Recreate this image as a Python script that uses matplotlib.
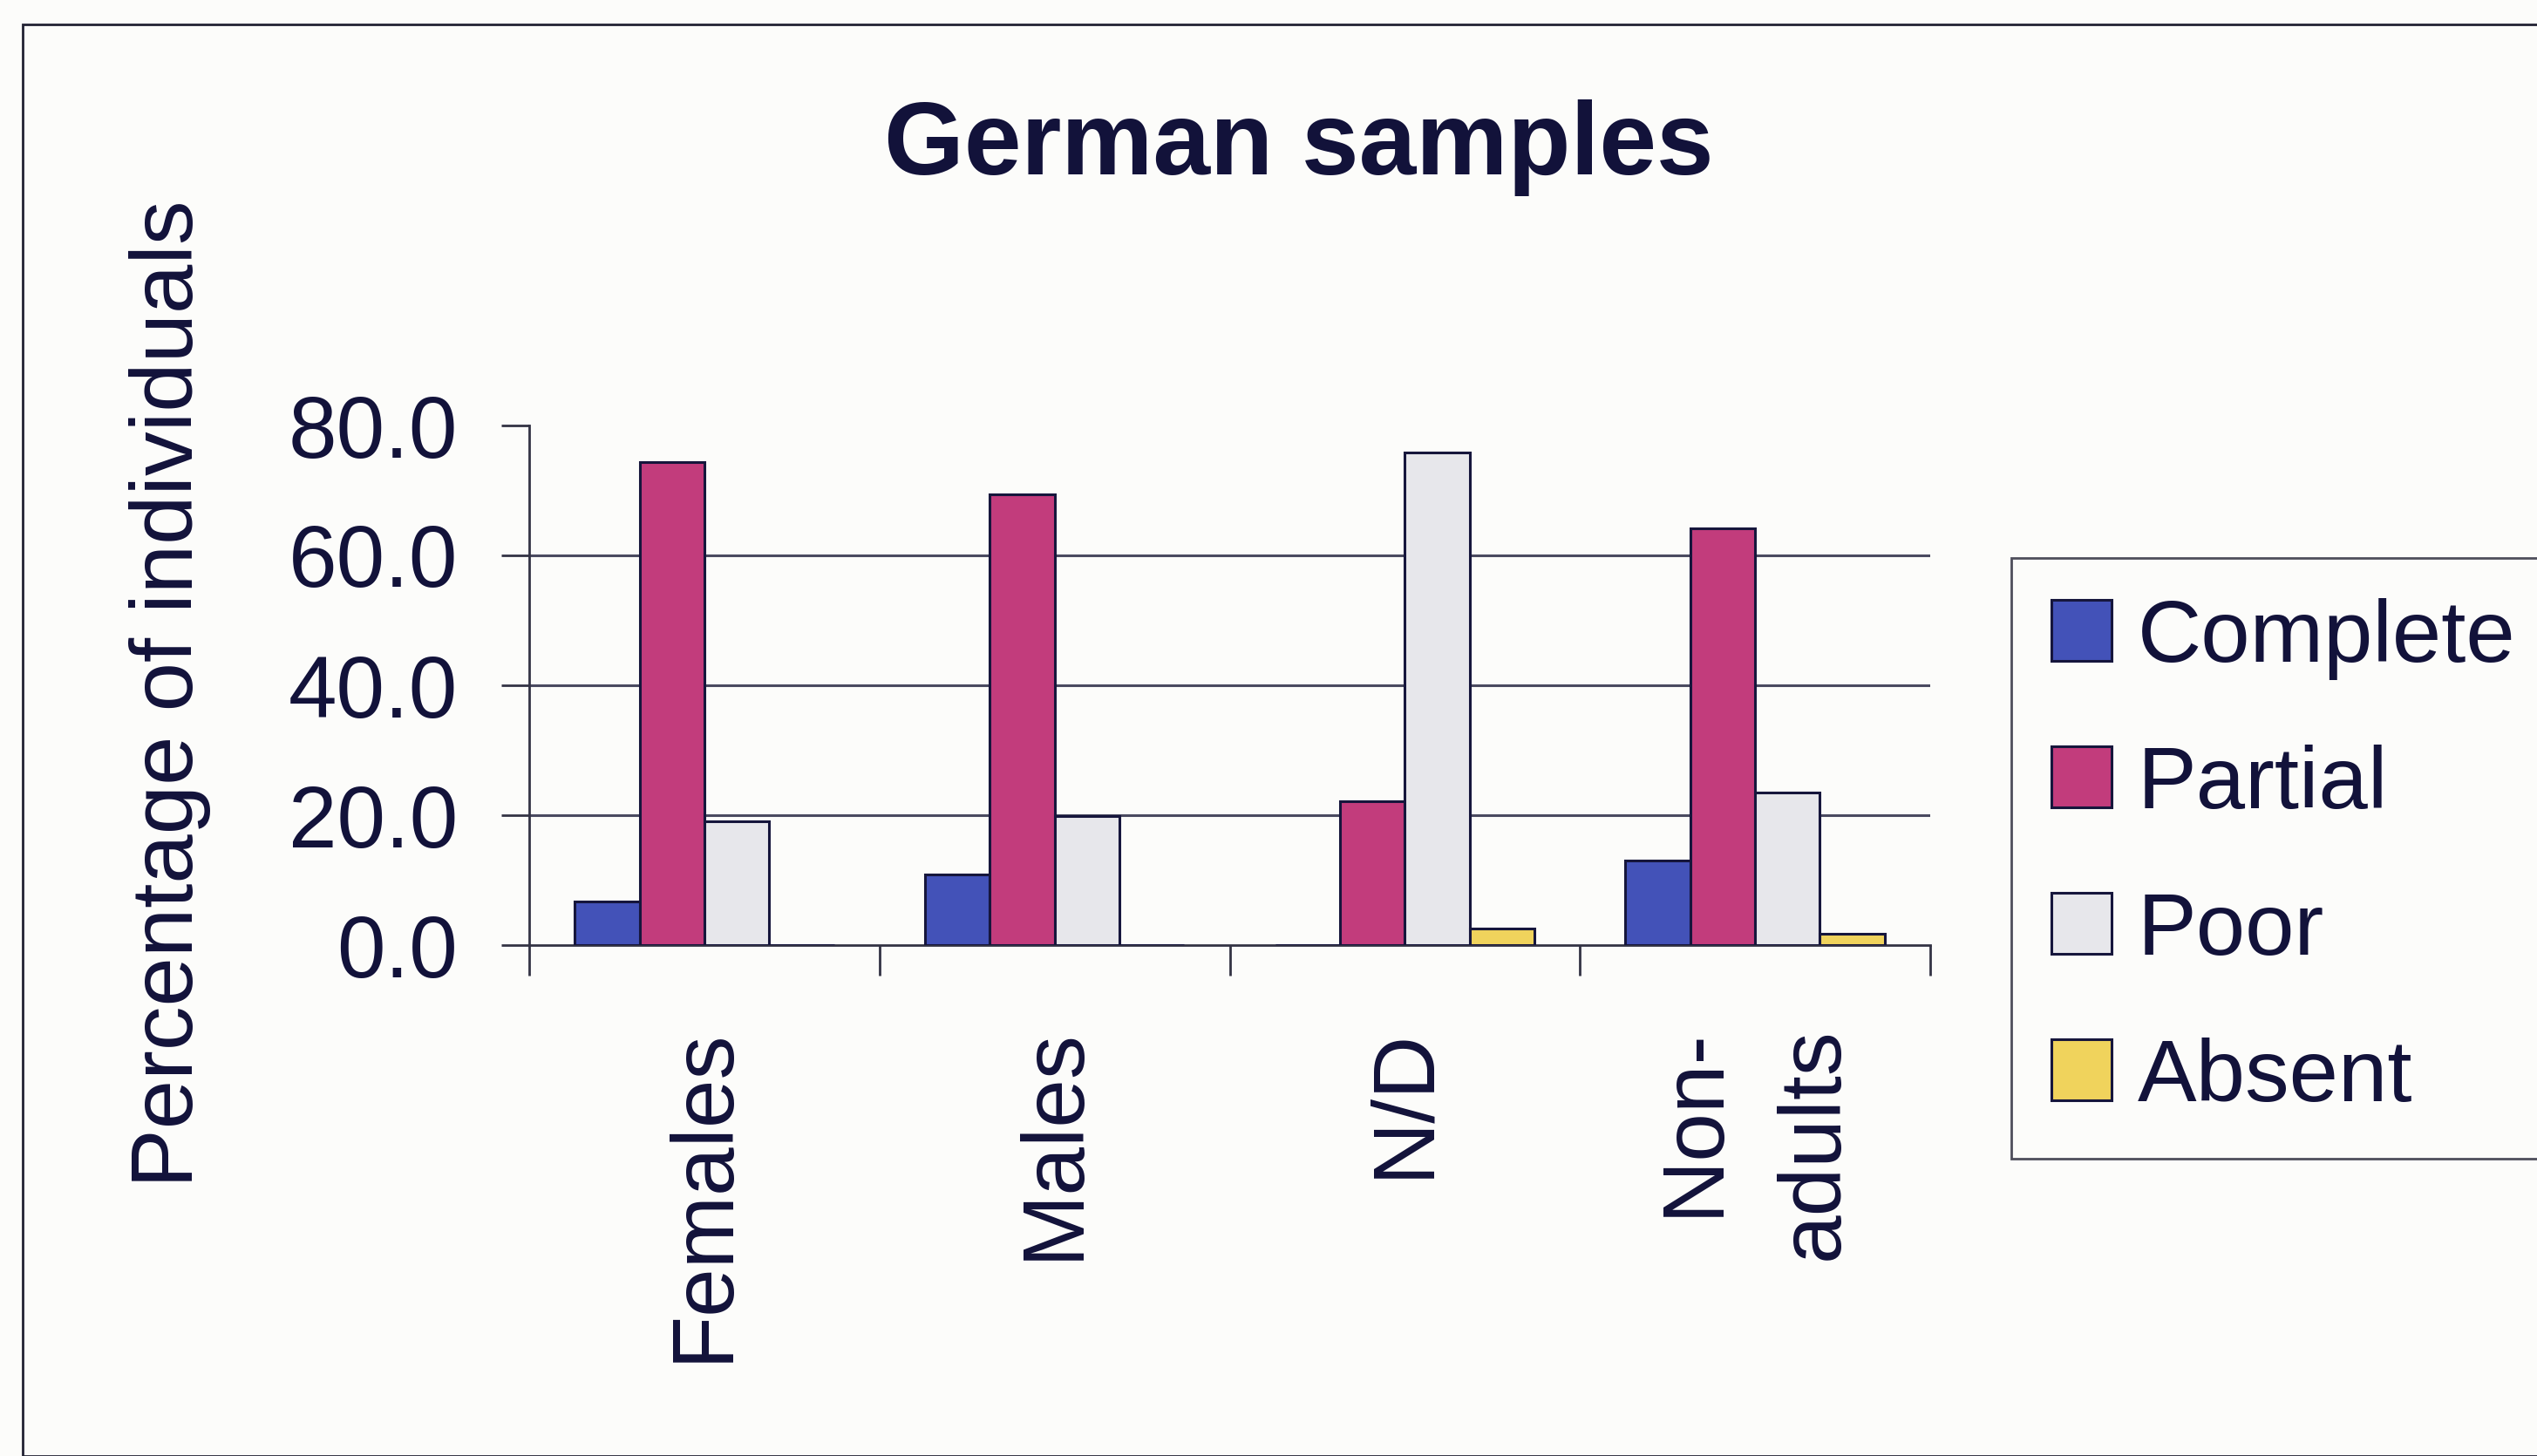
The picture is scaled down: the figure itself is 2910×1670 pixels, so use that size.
import matplotlib
matplotlib.use("Agg")
import matplotlib.pyplot as plt
from matplotlib.patches import Rectangle
import numpy as np

categories = ["Females", "Males", "N/D", "Non-\nadults"]
series_names = ["Complete", "Partial", "Poor", "Absent"]
complete = [6.7, 10.9, 0.0, 13.0]
partial = [74.4, 69.4, 22.1, 64.2]
poor = [19.0, 19.8, 75.9, 23.5]
absent = [0.0, 0.0, 2.6, 1.8]
yticks = [0, 20, 40, 60, 80]
ytick_labels = ["0.0", "20.0", "40.0", "60.0", "80.0"]

colors = ["#4352B8", "#C23C7C", "#E7E7EB", "#F0D35C"]
edge = "#16163C"
text_c = "#12123A"
bg = "#FCFCFA"

plt.rcParams["font.family"] = ["Liberation Sans", "DejaVu Sans"]

W, H = 2910, 1670
fig = plt.figure(figsize=(W / 100, H / 100), dpi=100, facecolor=bg)

# outer chart frame
fig.patches.append(Rectangle((26 / W, 0.0), 1.2, 1 - 28 / H, transform=fig.transFigure,
                             fill=False, edgecolor="#222233", linewidth=2.0))

ax = fig.add_axes([607 / W, 1 - 1084 / H, (2214 - 607) / W, (1084 - 488) / H])
ax.set_facecolor(bg)

x = np.arange(len(categories))
bw = 0.185
data = [complete, partial, poor, absent]
for i, (name, vals) in enumerate(zip(series_names, data)):
    ax.bar(x + (i - 1.5) * bw, vals, width=bw, color=colors[i], edgecolor=edge,
           linewidth=2.2, label=name, zorder=3)

ax.set_xlim(-0.5, len(categories) - 0.5)
ax.set_ylim(0, 80)
ax.set_yticks(yticks)
ax.set_yticklabels(ytick_labels)
for gy in yticks[1:-1]:
    ax.axhline(gy, color="#4A4A60", linewidth=2.2, zorder=1)

for s in ["top", "right"]:
    ax.spines[s].set_visible(False)
ax.spines["left"].set_color("#333344")
ax.spines["bottom"].set_color("#333344")
ax.spines["left"].set_linewidth(2.0)
ax.spines["bottom"].set_linewidth(2.0)

ax.tick_params(axis="y", direction="out", length=23, width=2.0, color="#333344",
               pad=36, labelsize=72, labelcolor=text_c)
ax.set_xticks(x)
ax.set_xticklabels(categories, rotation=90, fontsize=72, color=text_c,
                   va="top", ha="center", multialignment="right", linespacing=1.6)
ax.set_xticks(np.arange(-0.5, len(categories)), minor=True)
ax.tick_params(axis="x", which="major", length=0, pad=68)
ax.tick_params(axis="x", which="minor", direction="out", length=25, width=2.0, color="#333344")

fig.text(1490 / W, 1 - 200 / H, "German samples", ha="center", va="baseline",
         fontsize=85, fontweight="bold", color=text_c)
fig.text(195 / W, 1 - 796 / H, "Percentage of individuals", rotation=90,
         ha="center", va="center", fontsize=73, color=text_c)

top = 1 - 640 / H
leg = fig.legend(loc="upper left", bbox_to_anchor=(2307 / W, top - 0.2, 0.25, 0.2),
                 mode="expand", fontsize=73, frameon=True, fancybox=False,
                 handlelength=0.68, handleheight=0.68, handletextpad=0.3,
                 labelspacing=0.73, borderpad=0.45, borderaxespad=0.0)
leg.get_frame().set_edgecolor("#222233")
leg.get_frame().set_linewidth(2.0)
leg.get_frame().set_facecolor(bg)
for t in leg.get_texts():
    t.set_color(text_c)

fig.savefig("out.png", dpi=100, facecolor=bg)
